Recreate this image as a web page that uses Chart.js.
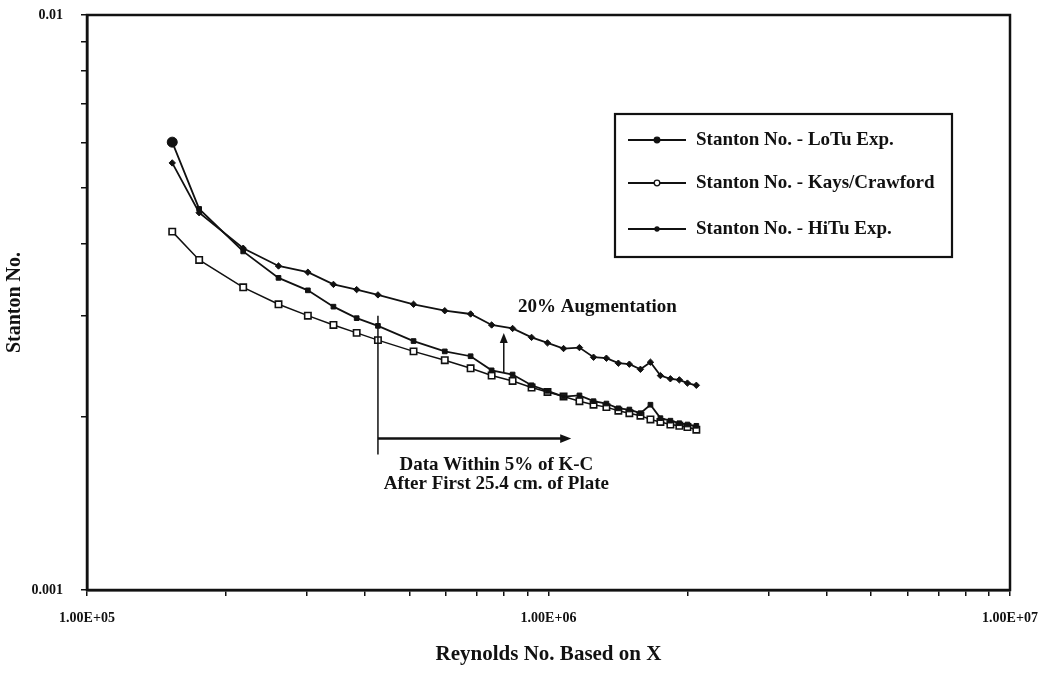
<!DOCTYPE html>
<html>
<head>
<meta charset="utf-8">
<script src="https://cdn.jsdelivr.net/npm/chart.js"></script>
<style>
  html, body { margin: 0; padding: 0; background: #fff; }
  #wrap { width: 1046px; height: 673px; }
</style>
</head>
<body>
<div id="wrap"><canvas id="stantonChart" width="1046" height="673"></canvas></div>
<script>
// Stanton number vs Reynolds number (log-log), flat plate heat transfer

const reynolds = [153000, 175000, 218000, 260000, 301000, 342000, 384000, 427000, 510000, 596000,
  678000, 753000, 836000, 919000, 995000, 1078000, 1167000, 1252000, 1335000, 1417000,
  1497000, 1582000, 1663000, 1748000, 1837000, 1921000, 2000000, 2091000];

const stLoTu = [0.00601, 0.00460, 0.00388, 0.00349, 0.00332, 0.00311, 0.00297, 0.00288, 0.00271, 0.00260,
  0.00255, 0.00241, 0.00237, 0.00227, 0.00222, 0.00217, 0.00218, 0.00213, 0.00211, 0.00207,
  0.00206, 0.00203, 0.00210, 0.00199, 0.00197, 0.00195, 0.00194, 0.00193];

const stKaysCrawford = [0.00420, 0.00375, 0.00336, 0.00314, 0.00300, 0.00289, 0.00280, 0.00272, 0.00260, 0.00251,
  0.00243, 0.00236, 0.00231, 0.00225, 0.00221, 0.00217, 0.00213, 0.00210, 0.00208, 0.00205,
  0.00203, 0.00201, 0.00198, 0.00196, 0.00194, 0.00193, 0.00192, 0.00190];

const stHiTu = [0.00553, 0.00453, 0.00393, 0.00366, 0.00357, 0.00340, 0.00333, 0.00326, 0.00314, 0.00306,
  0.00302, 0.00289, 0.00285, 0.00275, 0.00269, 0.00263, 0.00264, 0.00254, 0.00253, 0.00248,
  0.00247, 0.00242, 0.00249, 0.00236, 0.00233, 0.00232, 0.00229, 0.00227];

const seriesLabels = ["Stanton No. - LoTu Exp.", "Stanton No. - Kays/Crawford", "Stanton No. - HiTu Exp."];

const xDecades = [1e5, 1e6, 1e7];
const xTickLabels = ["1.00E+05", "1.00E+06", "1.00E+07"];
const yDecades = [0.001, 0.01];
const yTickLabels = ["0.001", "0.01"];

const INK = "#111";
const SERIF = "'Liberation Serif', 'DejaVu Serif', serif";

const toPoints = (ys) => reynolds.map((x, i) => ({ x: x, y: ys[i] }));

// 1..9 per decade, plus the last decade
function logTicks(decades) {
  const out = [];
  for (let d = 0; d < decades.length - 1; d++) {
    for (let k = 1; k <= 9; k++) out.push({ value: k * decades[d] });
  }
  out.push({ value: decades[decades.length - 1] });
  return out;
}

function decadeLabel(v, decades, labels) {
  for (let i = 0; i < decades.length; i++) {
    if (Math.abs(v - decades[i]) / decades[i] < 1e-6) return labels[i];
  }
  return "";
}

// box round the plot area (top and right sides too)
const frame = {
  id: "frame",
  afterDraw(chart) {
    const { ctx, chartArea: a } = chart;
    ctx.save();
    ctx.strokeStyle = INK;
    ctx.lineWidth = 2.5;
    ctx.strokeRect(a.left, a.top, a.right - a.left, a.bottom - a.top);
    ctx.restore();
  }
};

function arrow(ctx, x1, y1, x2, y2, head) {
  const ang = Math.atan2(y2 - y1, x2 - x1);
  ctx.beginPath();
  ctx.moveTo(x1, y1);
  ctx.lineTo(x2 - Math.cos(ang) * head * 0.8, y2 - Math.sin(ang) * head * 0.8);
  ctx.stroke();
  ctx.beginPath();
  ctx.moveTo(x2, y2);
  ctx.lineTo(x2 - head * Math.cos(ang) + head * 0.4 * Math.sin(ang), y2 - head * Math.sin(ang) - head * 0.4 * Math.cos(ang));
  ctx.lineTo(x2 - head * Math.cos(ang) - head * 0.4 * Math.sin(ang), y2 - head * Math.sin(ang) + head * 0.4 * Math.cos(ang));
  ctx.closePath();
  ctx.fill();
}

// notes on the plot, placed in data coordinates
const notes = {
  id: "notes",
  afterDatasetsDraw(chart) {
    const { ctx } = chart;
    const xs = chart.scales.x, ys = chart.scales.y;
    const px = (v) => xs.getPixelForValue(v);
    const py = (v) => ys.getPixelForValue(v);
    ctx.save();
    ctx.strokeStyle = INK;
    ctx.fillStyle = INK;

    // start of agreement with K-C
    ctx.lineWidth = 1.5;
    ctx.beginPath();
    ctx.moveTo(px(427000), py(0.00300));
    ctx.lineTo(px(427000), py(0.00172));
    ctx.stroke();
    ctx.lineWidth = 2.5;
    arrow(ctx, px(427000), py(0.001834), px(1120000), py(0.001834), 11);

    // augmentation arrow
    ctx.lineWidth = 1.5;
    arrow(ctx, px(800000), py(0.00239), px(800000), py(0.00280), 10);

    ctx.font = "bold 19px " + SERIF;
    ctx.textAlign = "center";
    ctx.textBaseline = "middle";
    ctx.fillText("20% Augmentation", px(1277000), py(0.00311));
    const tx = px(771000), ty = py(0.001648);
    ctx.fillText("Data Within 5% of K-C", tx, ty);
    ctx.fillText("After First 25.4 cm. of Plate", tx, ty + 19);
    ctx.restore();
  }
};

// legend box inside the plot
const boxLegend = {
  id: "boxLegend",
  afterDraw(chart) {
    const { ctx } = chart;
    const left = 615, top = 114, w = 337, h = 143;
    ctx.save();
    ctx.fillStyle = "#fff";
    ctx.fillRect(left, top, w, h);
    ctx.strokeStyle = INK;
    ctx.lineWidth = 2.2;
    ctx.strokeRect(left, top, w, h);
    ctx.font = "bold 19px " + SERIF;
    ctx.textBaseline = "middle";
    const rows = [140, 183, 229];
    chart.data.datasets.forEach((ds, i) => {
      const y = rows[i];
      ctx.strokeStyle = INK;
      ctx.lineWidth = 1.8;
      ctx.beginPath();
      ctx.moveTo(628, y);
      ctx.lineTo(686, y);
      ctx.stroke();
      ctx.beginPath();
      ctx.arc(657, y, i === 2 ? 2 : 2.8, 0, Math.PI * 2);
      ctx.fillStyle = i === 1 ? "#fff" : INK;
      ctx.fill();
      ctx.lineWidth = 1.3;
      ctx.stroke();
      ctx.fillStyle = INK;
      ctx.fillText(ds.label, 696, y);
    });
    ctx.restore();
  }
};

new Chart(document.getElementById("stantonChart").getContext("2d"), {
  type: "line",
  data: {
    datasets: [
      {
        label: seriesLabels[0],
        data: toPoints(stLoTu),
        borderColor: INK,
        backgroundColor: INK,
        borderWidth: 1.8,
        pointStyle: (c) => (c.dataIndex === 0 ? "circle" : "rect"),
        pointRadius: (c) => (c.dataIndex === 0 ? 5 : 3.3),
        pointBorderWidth: 1,
        tension: 0
      },
      {
        label: seriesLabels[1],
        data: toPoints(stKaysCrawford),
        borderColor: INK,
        backgroundColor: "#fff",
        borderWidth: 1.5,
        pointStyle: "rect",
        pointRadius: 4.5,
        pointBorderWidth: 1.6,
        tension: 0
      },
      {
        label: seriesLabels[2],
        data: toPoints(stHiTu),
        borderColor: INK,
        backgroundColor: INK,
        borderWidth: 1.8,
        pointStyle: "rectRot",
        pointRadius: 3.2,
        pointBorderWidth: 1,
        tension: 0
      }
    ]
  },
  options: {
    responsive: false,
    animation: false,
    layout: { padding: { top: 15, right: 36, left: 0, bottom: 0 } },
    plugins: {
      legend: { display: false },
      tooltip: { enabled: false }
    },
    scales: {
      x: {
        type: "logarithmic",
        min: 1e5,
        max: 1e7,
        afterBuildTicks: (s) => { s.ticks = logTicks(xDecades); },
        afterFit: (s) => { s.height = 83; s.paddingLeft = 0; s.paddingRight = 0; },
        grid: { drawOnChartArea: false, tickLength: 6, color: INK, lineWidth: 1.5 },
        border: { color: INK, width: 2.5 },
        ticks: {
          autoSkip: false,
          maxRotation: 0,
          padding: 14,
          color: INK,
          font: { family: SERIF, size: 14, weight: "bold" },
          callback: (v) => decadeLabel(v, xDecades, xTickLabels)
        },
        title: {
          display: true,
          text: "Reynolds No. Based on X",
          color: INK,
          font: { family: SERIF, size: 21, weight: "bold" },
          padding: { top: 0, bottom: 6 }
        }
      },
      y: {
        type: "logarithmic",
        min: 0.001,
        max: 0.01,
        afterBuildTicks: (s) => { s.ticks = logTicks(yDecades); },
        afterFit: (s) => { s.width = 87; s.paddingTop = 0; s.paddingBottom = 0; },
        grid: { drawOnChartArea: false, tickLength: 6, color: INK, lineWidth: 1.5 },
        border: { color: INK, width: 2.5 },
        ticks: {
          autoSkip: false,
          padding: 18,
          color: INK,
          font: { family: SERIF, size: 14, weight: "bold" },
          callback: (v) => decadeLabel(v, yDecades, yTickLabels)
        },
        title: {
          display: true,
          text: "Stanton No.",
          color: INK,
          font: { family: SERIF, size: 20, weight: "bold" },
          padding: { top: 3, bottom: 0 }
        }
      }
    }
  },
  plugins: [frame, notes, boxLegend]
});
</script>
</body>
</html>
